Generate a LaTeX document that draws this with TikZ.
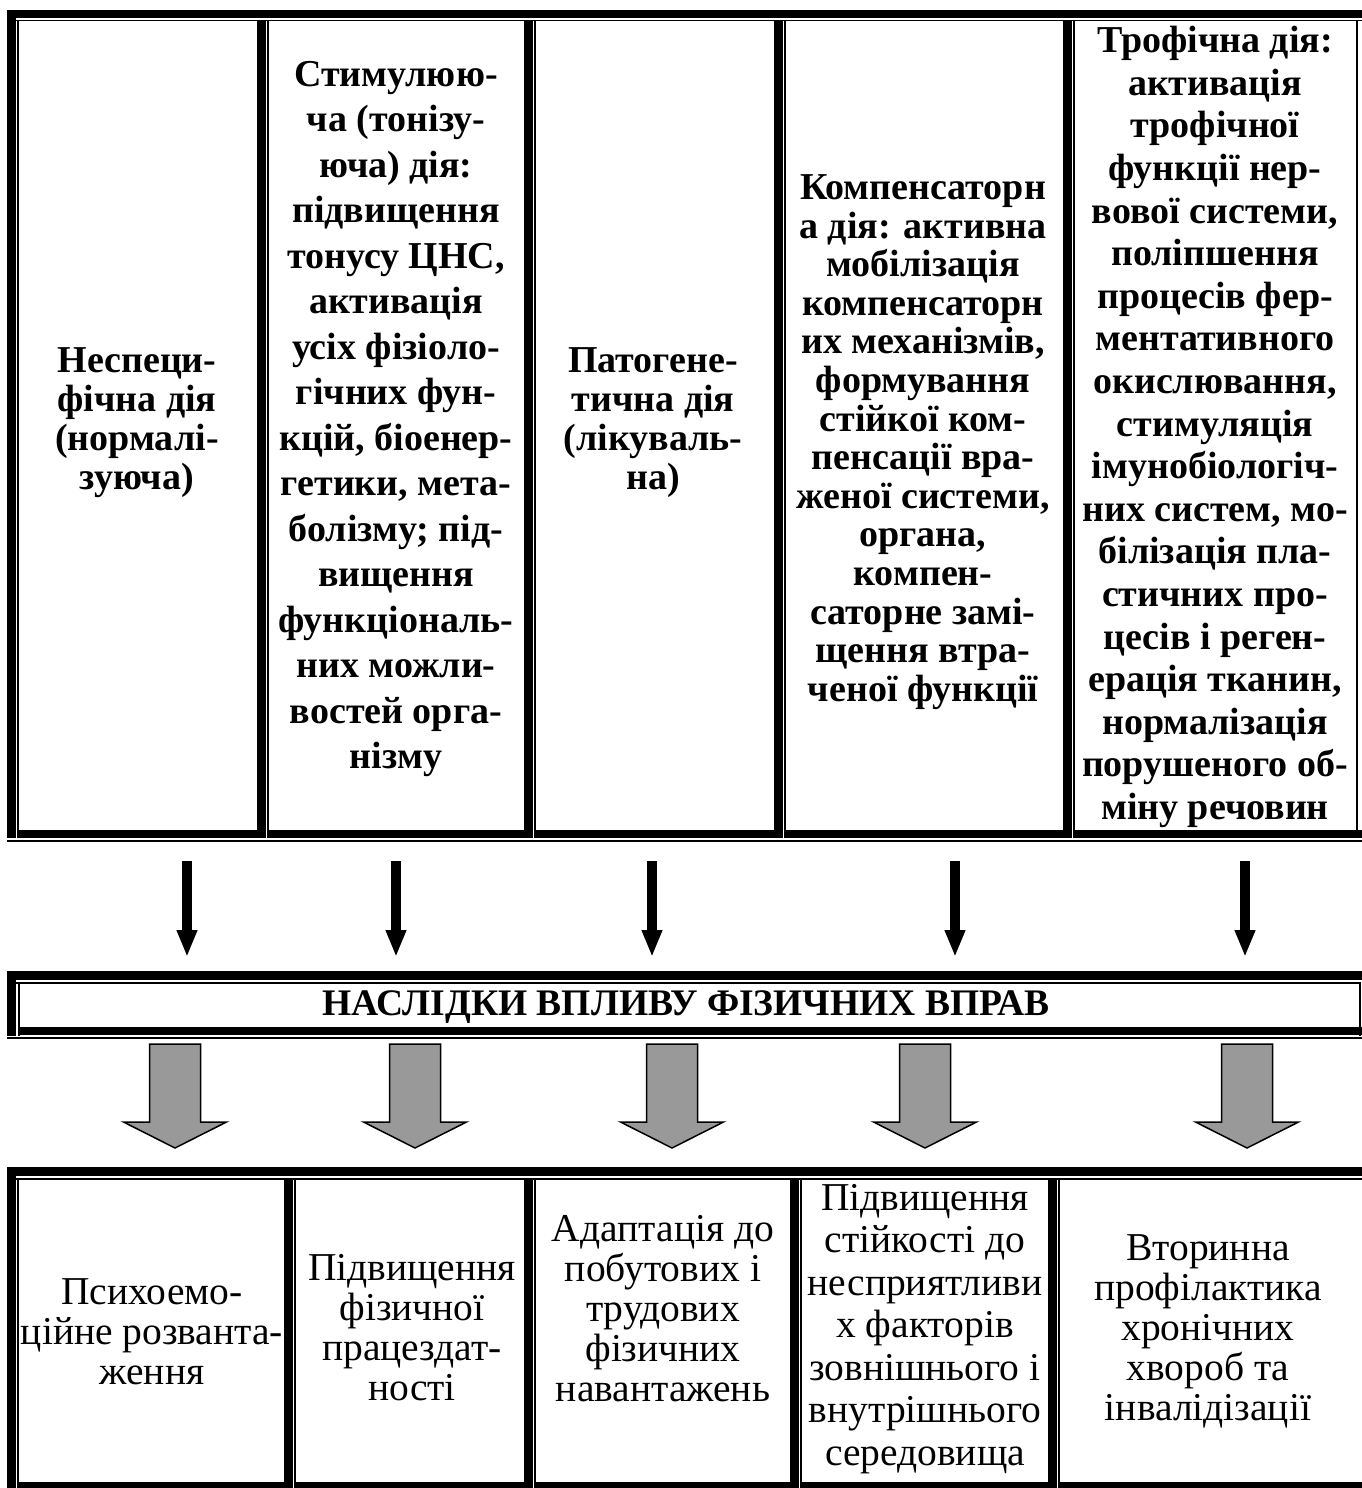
\documentclass[tikz,border=0pt]{standalone}
\usepackage{fontspec}
\setmainfont{Liberation Serif}
\usepackage{xcolor}
\usetikzlibrary{arrows.meta}

\begin{document}
\begin{tikzpicture}[x=1pt, y=-1pt,
    toptext/.style={inner sep=0pt, align=center, font=\fontsize{38}{#1}\selectfont\bfseries},
    toptext/.default=39,
    bottext/.style={inner sep=0pt, align=center, font=\fontsize{39.5}{#1}\selectfont},
    bottext/.default=40,
    headtext/.style={inner sep=0pt, align=center, font=\fontsize{37.5}{40}\selectfont\bfseries},
    blackarr/.style={line width=9.5pt, -{Triangle[width=19pt, length=27pt]}},
    greyarr/.style={fill=black!40, draw=black, line width=1.5pt, line join=miter}]

    \useasboundingbox (0,0) rectangle (1362,1488);

    % Top table frame
    \fill (7,10) rectangle (1362,18.5);
    \fill (16,20) rectangle (1362,21.5);
    \fill (7,10) rectangle (16,838);
    \fill (7,840) rectangle (1362,842);
    \foreach \a/\b in {18/266, 268/533, 535/783, 785/1072} {
        \fill (\a-1,20) rectangle (\a+0.5,838);
        \fill (\b-9,20) rectangle (\b,838);
        \fill (\a-1,830) rectangle (\b,838);
    }
    \fill (1073,20) rectangle (1074.5,838);
    \fill (1073,830) rectangle (1362,838);
    \fill (1356,20) rectangle (1358,838);

    % Top table texts
    \node[toptext] (nonspec) at (137,423) {Неспеци-\\фічна дія\\(нормалі-\\зуюча)};
    \node[toptext=45.5] (stimul) at (396,419) {Стимулюю-\\ча (тонізу-\\юча) дія:\\підвищення\\тонусу ЦНС,\\активація\\усіх фізіоло-\\гічних фун-\\кцій, біоенер-\\гетики, мета-\\болізму; під-\\вищення\\функціональ-\\них можли-\\востей орга-\\нізму};
    \node[toptext] (pathog) at (653,423) {Патогене-\\тична дія\\(лікуваль-\\на)};
    \node[toptext=38.6] (compens) at (923,442) {Компенсаторн\\а дія: активна\\мобілізація\\компенсаторн\\их механізмів,\\формування\\стійкої ком-\\пенсації вра-\\женої системи,\\органа,\\компен-\\саторне замі-\\щення втра-\\ченої функції};
    \node[toptext=42.6] (troph) at (1215,427) {Трофічна дія:\\активація\\трофічної\\функції нер-\\вової системи,\\поліпшення\\процесів фер-\\ментативного\\окислювання,\\стимуляція\\імунобіологіч-\\них систем, мо-\\білізація пла-\\стичних про-\\цесів і реген-\\ерація тканин,\\нормалізація\\порушеного об-\\міну речовин};

    % Black arrows
    \foreach \x [count=\i] in {187, 396, 652, 955, 1245} {
        \coordinate (bs\i) at (\x,861);
        \coordinate (be\i) at (\x,957);
        \draw[blackarr] (bs\i) -- (be\i);
    }

    % Middle bar
    \fill (7,971) rectangle (1362,980);
    \fill (16,982) rectangle (1360,984);
    \fill (7,971) rectangle (16,1036);
    \fill (17.5,982) rectangle (19.5,1036);
    \fill (17.5,1027) rectangle (1362,1035);
    \fill (1359,982) rectangle (1361,1036);
    \fill (7,1037) rectangle (1362,1039);
    \node[headtext] (result) at (686,1007) {НАСЛІДКИ ВПЛИВУ ФІЗИЧНИХ ВПРАВ};

    % Grey arrows
    \foreach \x in {175, 415, 672, 925, 1247} {
        \filldraw[greyarr] (\x-25.5,1044) -- (\x+25.5,1044) -- (\x+25.5,1122) -- (\x+51.5,1122)
            -- (\x,1148) -- (\x-51.5,1122) -- (\x-25.5,1122) -- cycle;
    }

    % Bottom table frame
    \fill (7,1167) rectangle (1362,1176);
    \fill (16,1178) rectangle (1362,1180);
    \fill (7,1167) rectangle (16,1488);
    \foreach \a/\b in {18/293, 295/533, 535/799, 801/1057} {
        \fill (\a-1,1178) rectangle (\a+0.5,1488);
        \fill (\b-9,1178) rectangle (\b,1488);
        \fill (\a-1,1482) rectangle (\b,1490);
    }
    \fill (1058,1178) rectangle (1059.5,1488);
    \fill (1058,1482) rectangle (1362,1490);

    % Bottom table texts
    \node[bottext] (relief) at (152,1332) {Психоемо-\\ційне розванта-\\ження};
    \node[bottext] (capac) at (412,1328) {Підвищення\\фізичної\\працездат-\\ності};
    \node[bottext] (adapt) at (663,1309) {Адаптація до\\побутових і\\трудових\\фізичних\\навантажень};
    \node[bottext=42.5] (resist) at (925,1329) {Підвищення\\стійкості до\\несприятливи\\х факторів\\зовнішнього і\\внутрішнього\\середовища};
    \node[bottext] (prevent) at (1208,1331) {Вторинна\\профілактика\\хронічних\\хвороб та\\інвалідізації};
\end{tikzpicture}
\end{document}
